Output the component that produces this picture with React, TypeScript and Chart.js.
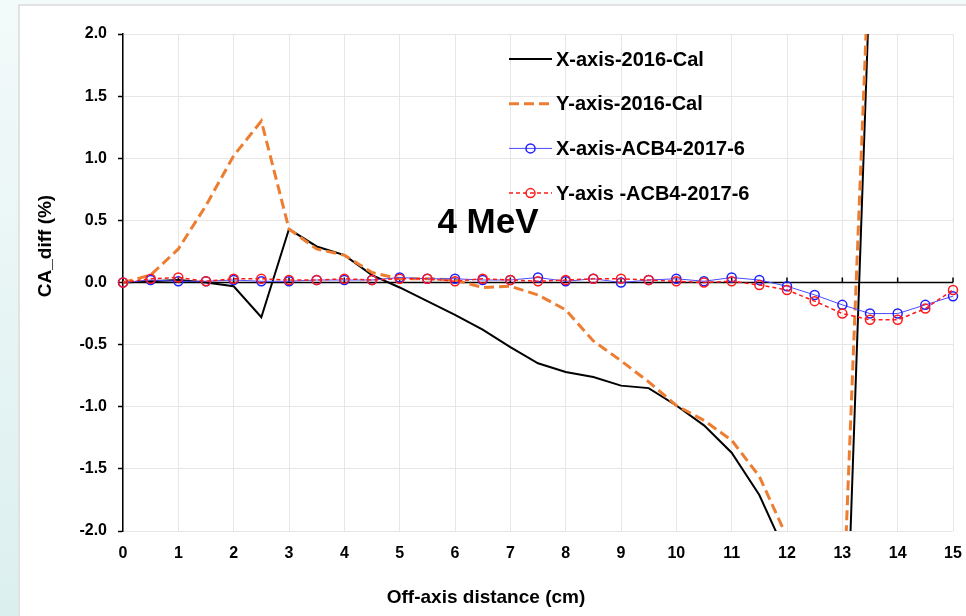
import React, { useEffect, useRef } from 'react';
import { Chart, registerables } from 'chart.js';

Chart.register(...registerables);

// ---------- data ----------
const distances = [0, 0.5, 1, 1.5, 2, 2.5, 3, 3.5, 4, 4.5, 5, 5.5, 6, 6.5, 7, 7.5, 8, 8.5, 9, 9.5, 10, 10.5, 11, 11.5, 12, 12.5, 13, 13.5, 14, 14.5, 15];

const xAxisCal2016 = [0, 0.01, 0.02, 0.0, -0.03, -0.28, 0.43, 0.29, 0.22, 0.06, -0.04, -0.15, -0.26, -0.38, -0.52, -0.65, -0.72, -0.76, -0.83, -0.85, -0.99, -1.15, -1.37, -1.71, -2.2, -3.0, -3.9, 2.5];
const yAxisCal2016 = [0, 0.06, 0.27, 0.62, 1.02, 1.3, 0.43, 0.27, 0.22, 0.08, 0.03, 0.03, 0.02, -0.04, -0.03, -0.1, -0.22, -0.47, -0.63, -0.8, -0.99, -1.11, -1.27, -1.56, -2.05, -2.45, -2.8, 2.8];
const xAxisAcb4 = [0, 0.02, 0.01, 0.01, 0.02, 0.01, 0.01, 0.02, 0.02, 0.02, 0.04, 0.03, 0.03, 0.02, 0.02, 0.04, 0.01, 0.03, 0.0, 0.02, 0.03, 0.01, 0.04, 0.02, -0.03, -0.1, -0.18, -0.25, -0.25, -0.18, -0.11];
const yAxisAcb4 = [0, 0.03, 0.04, 0.01, 0.03, 0.03, 0.02, 0.02, 0.03, 0.02, 0.03, 0.03, 0.01, 0.03, 0.02, 0.01, 0.02, 0.03, 0.03, 0.02, 0.01, 0.0, 0.01, -0.02, -0.06, -0.15, -0.25, -0.3, -0.3, -0.21, -0.06];

const seriesLabels = ['X-axis-2016-Cal', 'Y-axis-2016-Cal', 'X-axis-ACB4-2017-6', 'Y-axis -ACB4-2017-6'];
const xTitle = 'Off-axis distance (cm)';
const yTitle = 'CA_diff (%)';
const energyLabel = '4 MeV';
const xMin = 0;
const xMax = 15;
const yMin = -2;
const yMax = 2;

const FONT = '"Liberation Sans", Arial, Helvetica, sans-serif';

const toPoints = (vals: number[]) => vals.map((v, i) => ({ x: distances[i], y: v }));

const zeroAxisPlugin = {
  id: 'zeroAxis',
  beforeDatasetsDraw(chart: any) {
    const { ctx, chartArea } = chart;
    const xs = chart.scales.x;
    const ys = chart.scales.y;
    const y0 = ys.getPixelForValue(0);
    ctx.save();
    ctx.strokeStyle = '#000';
    ctx.lineWidth = 1.5;
    ctx.beginPath();
    ctx.moveTo(chartArea.left, y0);
    ctx.lineTo(chartArea.right, y0);
    xs.ticks.forEach((t: any) => {
      const px = xs.getPixelForValue(t.value);
      ctx.moveTo(px, y0);
      ctx.lineTo(px, y0 - 5);
    });
    ctx.stroke();
    ctx.restore();
  },
};

const textPlugin = {
  id: 'texts',
  afterDraw(chart: any) {
    const { ctx } = chart;
    ctx.save();
    ctx.fillStyle = '#000';
    // legend
    const lx0 = 489;
    const lineLen = 43;
    const textX = 536;
    const ly0 = 53;
    const gap = 44.7;
    chart.data.datasets.forEach((ds: any, i: number) => {
      const y = ly0 + i * gap;
      ctx.save();
      ctx.strokeStyle = ds.borderColor;
      ctx.lineWidth = ds.borderWidth;
      ctx.setLineDash(ds.borderDash || []);
      ctx.beginPath();
      ctx.moveTo(lx0, y);
      ctx.lineTo(lx0 + lineLen, y);
      ctx.stroke();
      if (ds.pointRadius > 0) {
        ctx.setLineDash([]);
        ctx.strokeStyle = ds.pointBorderColor;
        ctx.lineWidth = ds.pointBorderWidth;
        ctx.beginPath();
        ctx.arc(lx0 + lineLen / 2, y, ds.pointRadius, 0, Math.PI * 2);
        ctx.stroke();
      }
      ctx.restore();
      ctx.font = `bold 20px ${FONT}`;
      ctx.textAlign = 'left';
      ctx.textBaseline = 'middle';
      ctx.fillText(ds.label, textX, y + 1);
    });
    // energy annotation
    ctx.font = `bold 35px ${FONT}`;
    ctx.textAlign = 'center';
    ctx.textBaseline = 'middle';
    ctx.fillText(energyLabel, 468, 217);
    // axis titles
    ctx.font = `bold 19px ${FONT}`;
    ctx.fillText(xTitle, 466, 592);
    ctx.save();
    ctx.translate(26, 240);
    ctx.rotate(-Math.PI / 2);
    ctx.font = `bold 19px ${FONT}`;
    ctx.fillText(yTitle, 0, 0);
    ctx.restore();
    ctx.restore();
  },
};

export default function App() {
  const ref = useRef<HTMLCanvasElement>(null);
  useEffect(() => {
    document.body.style.margin = '0';
    const canvas = ref.current;
    if (!canvas) return;
    const chart = new Chart(canvas, {
      type: 'line',
      data: {
        datasets: [
          {
            label: seriesLabels[0],
            data: toPoints(xAxisCal2016),
            borderColor: '#000000',
            borderWidth: 2,
            pointRadius: 0,
            fill: false,
            clip: 0,
            order: 4,
          },
          {
            label: seriesLabels[1],
            data: toPoints(yAxisCal2016),
            borderColor: '#ed7d31',
            borderWidth: 3,
            borderDash: [10, 5],
            pointRadius: 0,
            fill: false,
            clip: 0,
            order: 3,
          },
          {
            label: seriesLabels[2],
            data: toPoints(xAxisAcb4),
            borderColor: '#4a4aff',
            borderWidth: 1,
            pointRadius: 4.5,
            pointBorderColor: '#1f1fff',
            pointBackgroundColor: 'rgba(0,0,0,0)',
            pointBorderWidth: 1.5,
            fill: false,
            clip: 8,
            order: 2,
          },
          {
            label: seriesLabels[3],
            data: toPoints(yAxisAcb4),
            borderColor: '#ff1a1a',
            borderWidth: 1.5,
            borderDash: [4, 3],
            pointRadius: 4.5,
            pointBorderColor: '#ff1a1a',
            pointBackgroundColor: 'rgba(0,0,0,0)',
            pointBorderWidth: 1.5,
            fill: false,
            clip: 8,
            order: 1,
          },
        ] as any,
      },
      options: {
        animation: false,
        responsive: false,
        devicePixelRatio: 1,
        layout: { padding: { top: 28, right: 13, left: 0, bottom: 0 } },
        plugins: {
          legend: { display: false },
          tooltip: { enabled: false },
          title: { display: false },
        },
        scales: {
          x: {
            type: 'linear',
            min: xMin,
            max: xMax,
            afterFit: (s: any) => {
              s.height = 85;
              s.paddingLeft = 0;
              s.paddingRight = 0;
            },
            ticks: {
              stepSize: 1,
              padding: 13,
              color: '#000',
              font: { family: FONT, size: 16, weight: 'bold' },
            },
            grid: { color: '#e6e6e6', lineWidth: 1, drawTicks: false },
            border: { display: false },
          },
          y: {
            type: 'linear',
            min: yMin,
            max: yMax,
            afterFit: (s: any) => {
              s.width = 103;
            },
            ticks: {
              stepSize: 0.5,
              padding: 11,
              color: '#000',
              font: { family: FONT, size: 16, weight: 'bold' },
              callback: (v: any) => Number(v).toFixed(1),
            },
            grid: { color: '#e6e6e6', lineWidth: 1, drawTicks: true, tickLength: 5, tickColor: '#000', tickWidth: 1.5 },
            border: { display: true, color: '#000', width: 1.5 },
          },
        },
      } as any,
      plugins: [zeroAxisPlugin, textPlugin],
    });
    return () => chart.destroy();
  }, []);

  return (
    <div
      style={{
        position: 'relative',
        width: 966,
        height: 616,
        overflow: 'hidden',
        background: 'linear-gradient(180deg, #f3fafa 0%, #dcefef 100%)',
      }}
    >
      <div
        style={{
          position: 'absolute',
          left: 18,
          top: 4,
          width: 948,
          height: 612,
          background: '#ffffff',
          borderTop: '2px solid #e2e2e2',
          borderLeft: '2px solid #e2e2e2',
        }}
      >
        <canvas ref={ref} width={946} height={610} style={{ display: 'block', width: 946, height: 610 }} />
      </div>
    </div>
  );
}
